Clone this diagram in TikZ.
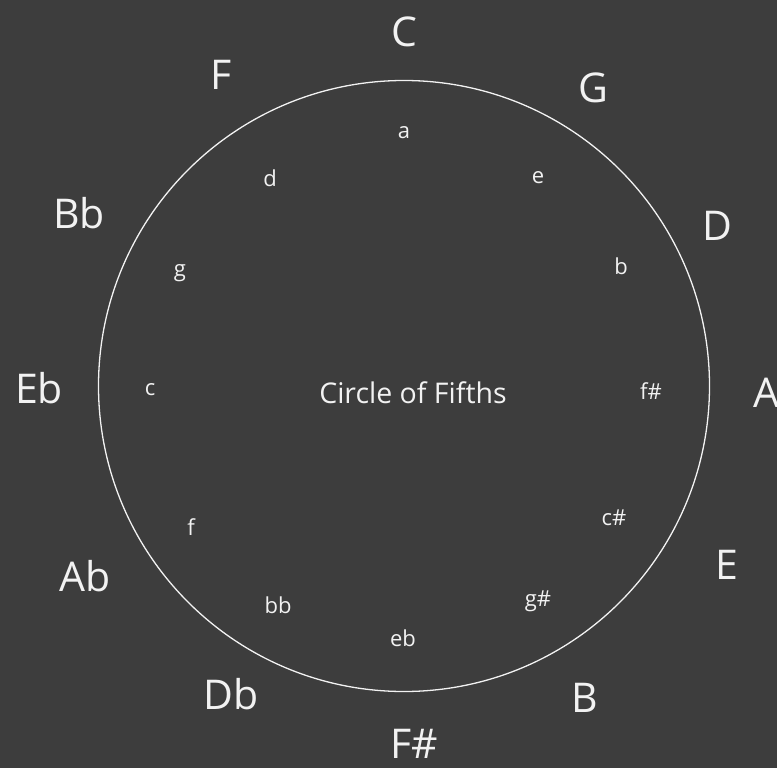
\documentclass[tikz,border=0pt]{standalone}
\usepackage{fontspec}
\setmainfont{Open Sans}
\definecolor{bg}{HTML}{3D3D3D}
\definecolor{fg}{HTML}{F2F2F2}
\begin{document}
\begin{tikzpicture}[x=1pt,y=-1pt,
  major/.style={text=fg,font=\fontsize{41}{41}\selectfont,inner sep=0pt},
  minor/.style={text=fg,font=\fontsize{22}{22}\selectfont,inner sep=0pt},
  title/.style={text=fg,font=\fontsize{28.5}{28.5}\selectfont,inner sep=0pt}]
\fill[bg] (0,0) rectangle (777,768);
\useasboundingbox (0,0) rectangle (777,768);
\node[draw=fg,line width=1.3pt,circle,minimum size=611pt,inner sep=0pt] (ring) at (404,386) {};
\node[title] (t) at (413,393) {Circle of Fifths};
% outer major keys
\node[major] (C) at (404,32) {C};
\node[major] (G) at (593,88) {G};
\node[major] (D) at (717,226) {D};
\node[major] (A) at (766,393) {A};
\node[major] (E) at (727,565) {E};
\node[major] (B) at (585,698) {B};
\node[major] (Fs) at (414,744) {F\#};
\node[major] (Db) at (231,694) {Db};
\node[major] (Ab) at (85,576) {Ab};
\node[major] (Eb) at (39,388) {Eb};
\node[major] (Bb) at (79,213) {Bb};
\node[major] (F) at (221,75) {F};
% inner minor keys
\node[minor] (a) at (404,133) {a};
\node[minor] (e) at (538,178) {e};
\node[minor] (b) at (621,266) {b};
\node[minor] (fs) at (651,391) {f\#};
\node[minor] (cs) at (614,518) {c\#};
\node[minor] (gs) at (538,601) {g\#};
\node[minor] (eb) at (403,638) {eb};
\node[minor] (bb) at (278,605) {bb};
\node[minor] (f) at (191,527) {f};
\node[minor] (c) at (150,390) {c};
\node[minor] (g) at (180,273) {g};
\node[minor] (d) at (270,178) {d};
\end{tikzpicture}
\end{document}
